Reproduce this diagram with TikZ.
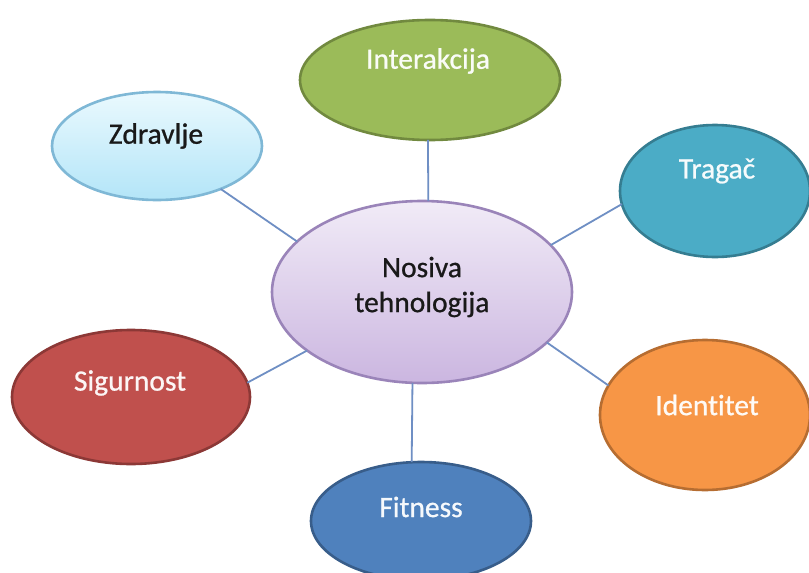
\documentclass[tikz,border=0pt]{standalone}
\usepackage{fontspec}
\setmainfont[Ligatures=NoCommon, FakeBold=0.8]{Carlito}
\usetikzlibrary{shapes.geometric}
\definecolor{lnk}{HTML}{6F8FC4}
\definecolor{cenT}{HTML}{F1EBF7}
\definecolor{cenB}{HTML}{CBB6E0}
\definecolor{cenD}{HTML}{9A84B9}
\definecolor{zdrT}{HTML}{EAF9FE}
\definecolor{zdrB}{HTML}{B3E5F8}
\definecolor{zdrD}{HTML}{7FB8D6}
\definecolor{intF}{HTML}{9BBB59}
\definecolor{intD}{HTML}{71893F}
\definecolor{traF}{HTML}{4BACC6}
\definecolor{traD}{HTML}{357D91}
\definecolor{ideF}{HTML}{F79646}
\definecolor{ideD}{HTML}{B66D31}
\definecolor{sigF}{HTML}{C0504D}
\definecolor{sigD}{HTML}{8C3836}
\definecolor{fitF}{HTML}{4F81BD}
\definecolor{fitD}{HTML}{385D8A}
\tikzset{
  bub/.style={ellipse, line width=2.6pt, inner sep=0pt, outer sep=0pt},
  lab/.style={font=\fontsize{29.5}{34}\selectfont, inner sep=0pt, align=center},
  link/.style={draw=lnk, line width=1.8pt}
}
\begin{document}
\begin{tikzpicture}[x=1pt, y=-1pt]
\useasboundingbox (0,0) rectangle (809,573);
\clip (0,0) rectangle (809,573);
\fill[white] (0,0) rectangle (809,573);
% bubbles
\node[bub, draw=cenD, top color=cenT, bottom color=cenB, minimum width=300pt, minimum height=182pt] (c) at (422,292) {};
\node[bub, draw=intD, fill=intF, minimum width=260pt, minimum height=120pt] (int) at (430,80) {};
\node[bub, draw=zdrD, top color=zdrT, bottom color=zdrB, minimum width=210pt, minimum height=108pt] (zdr) at (157,146) {};
\node[bub, draw=traD, fill=traF, minimum width=190pt, minimum height=132pt] (tra) at (715,191) {};
\node[bub, draw=ideD, fill=ideF, minimum width=210pt, minimum height=150pt] (ide) at (705,415) {};
\node[bub, draw=sigD, fill=sigF, minimum width=238pt, minimum height=134pt] (sig) at (131,397) {};
\node[bub, draw=fitD, fill=fitF, minimum width=220pt, minimum height=118pt] (fit) at (421,521) {};
% links
\draw[link] (c.86) -- (int.268);
\draw[link] (c.158) -- (zdr.326);
\draw[link] (c.20) -- (tra.188);
\draw[link] (c.338) -- (ide.163);
\draw[link] (c.207) -- (sig.7);
\draw[link] (c.264) -- (fit.99);
% labels
\node[lab, text=black!90] (tc) at (422,287) {Nosiva\\[1pt]tehnologija};
\node[lab, text=white!95!intF] (ti) at (428,61) {Interakcija};
\node[lab, text=black!90] (tz) at (156,136) {Zdravlje};
\node[lab, text=white!95!traF] (tt) at (717,171) {Tragač};
\node[lab, text=white!95!ideF] (tid) at (707,405) {Identitet};
\node[lab, text=white!95!sigF] (ts) at (130,383) {Sigurnost};
\node[lab, text=white!95!fitF] (tf) at (421,507) {Fitness};
\end{tikzpicture}
\end{document}
